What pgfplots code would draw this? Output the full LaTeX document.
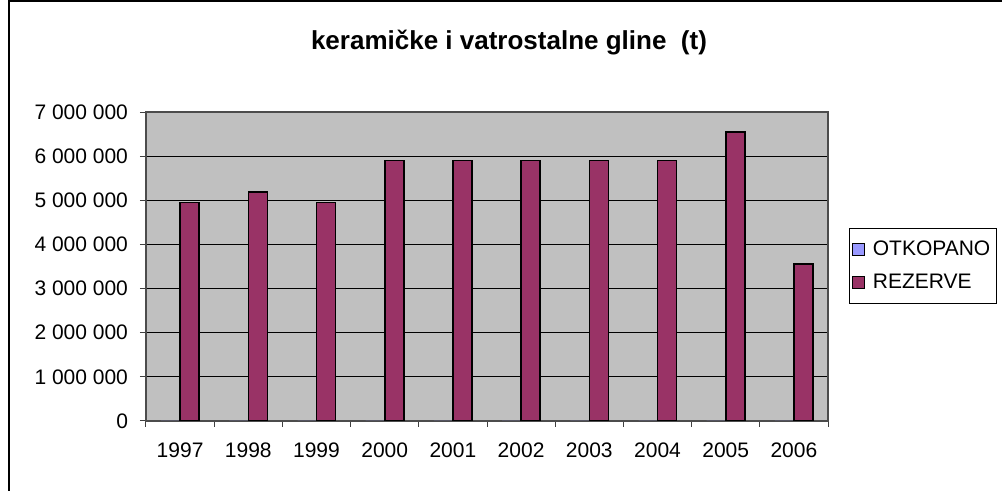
\documentclass[border=0pt]{standalone}
\usepackage{fontspec}
\setmainfont{Liberation Sans}
\usepackage{pgfplots}
\pgfplotsset{compat=1.18}
\definecolor{rez}{HTML}{993366}
\definecolor{otk}{HTML}{9999FF}
\definecolor{plotbg}{HTML}{C0C0C0}
\pgfplotsset{sqlegend/.style={legend image code/.code={\draw[##1, draw=black, line width=0.6pt] (0pt,-3pt) rectangle (6pt,3pt);}}}
\begin{document}
\begin{tikzpicture}
\useasboundingbox (0,0) rectangle (501pt,245.5pt);
\draw[line width=1pt] (4.5pt,-2pt) -- (4.5pt,244.75pt) -- (503pt,244.75pt);
\node[font=\fontsize{13}{15}\selectfont\bfseries] at (254.5pt,224pt) {keramičke i vatrostalne gline\ \ (t)};
\begin{axis}[
  at={(73pt,35pt)}, anchor=south west,
  scale only axis, width=341pt, height=154.5pt,
  ybar=0pt, bar width=9.5pt,
  xmin=-0.5, xmax=9.5, ymin=0, ymax=7000000,
  xtick={-0.5,0.5,1.5,2.5,3.5,4.5,5.5,6.5,7.5,8.5,9.5},
  x tick label as interval,
  xticklabels={1997,1998,1999,2000,2001,2002,2003,2004,2005,2006},
  ytick={0,1000000,2000000,3000000,4000000,5000000,6000000,7000000},
  yticklabels={0,1 000 000,2 000 000,3 000 000,4 000 000,5 000 000,6 000 000,7 000 000},
  scaled y ticks=false,
  tick align=outside, major tick length=3pt,
  xtick pos=bottom, ytick pos=left,
  tick style={gray!50!black, line width=0.5pt},
  axis line style={gray!60!black, line width=0.6pt},
  ymajorgrids, grid style={black, line width=0.5pt},
  axis background/.style={fill=plotbg},
  tick label style={font=\fontsize{10.5}{12}\selectfont},
  y tick label style={xshift=-2.5pt},
  x tick label style={yshift=-4.5pt},
  legend style={at={(1.031,0.625)}, anchor=north west, draw=black, line width=0.5pt,
    fill=white, font=\fontsize{10.5}{12}\selectfont, row sep=4pt, inner xsep=1pt, inner ysep=4pt,
    /tikz/every odd column/.append style={column sep=2pt}},
  legend cell align=left,
]
\addplot[fill=otk, draw=none, line width=0.8pt, sqlegend]
  coordinates {(0,0)(1,0)(2,0)(3,0)(4,0)(5,0)(6,0)(7,0)(8,0)(9,0)};
\addplot[fill=rez, draw=black, line width=0.8pt, sqlegend]
  coordinates {(0,4950000)(1,5190000)(2,4950000)(3,5900000)(4,5900000)(5,5900000)(6,5900000)(7,5900000)(8,6550000)(9,3550000)};
\legend{OTKOPANO,REZERVE}
\end{axis}
\end{tikzpicture}
\end{document}
